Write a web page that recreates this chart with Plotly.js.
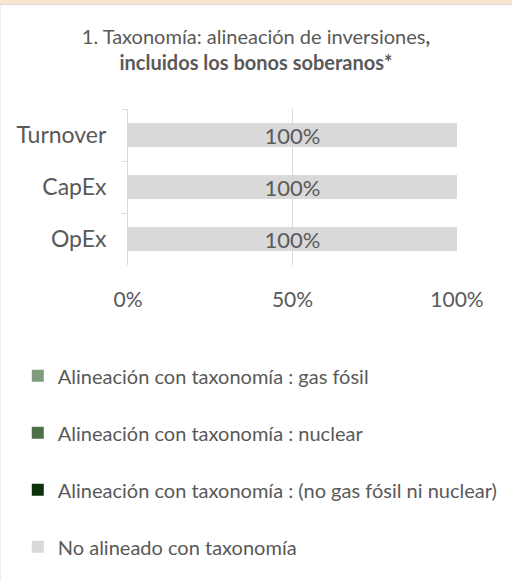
<!DOCTYPE html>
<html>
<head>
<meta charset="utf-8">
<script src="https://cdn.plot.ly/plotly-3.0.1.min.js"></script>
<style>
  html, body { margin: 0; padding: 0; background: #ffffff; }
  #wrap { position: relative; width: 512px; height: 581px; overflow: hidden; }
  #band { position: absolute; left: 0; top: 0; width: 512px; height: 4px; background: #fbe5d1; border-bottom: 1px solid #d9d9d9; z-index: 5; }
  #edge { position: absolute; left: 0; top: 5px; width: 1px; height: 576px; background: #ececec; z-index: 5; }
  #chart { position: absolute; left: 0; top: 0; width: 512px; height: 581px; }
</style>
</head>
<body>
<div id="wrap">
  <div id="chart"></div>
  <div id="band"></div>
  <div id="edge"></div>
</div>
<script>
// Data
const categories = ['Turnover', 'CapEx', 'OpEx'];
const seriesNames = [
  'Alineación con taxonomía : gas fósil',
  'Alineación con taxonomía : nuclear',
  'Alineación con taxonomía : (no gas fósil ni nuclear)',
  'No alineado con taxonomía'
];
const gasFosil = [0, 0, 0];
const nuclear = [0, 0, 0];
const noGasNiNuclear = [0, 0, 0];
const noAlineado = [1, 1, 1];
const xTickVals = [0, 0.5, 1];
const xTickText = ['0%', '50%', '100%'];

const colors = ['#7f9c7f', '#4f6f4b', '#0b320b', '#d9d9d9'];
const seriesValues = [gasFosil, nuclear, noGasNiNuclear, noAlineado];

const FONT = 'Lato, "Open Sans", sans-serif';
const TXT = '#595959';

const traces = seriesValues.map((vals, i) => ({
  type: 'bar',
  orientation: 'h',
  name: seriesNames[i],
  y: categories,
  x: vals,
  legendgroup: 'g' + i,
  marker: { color: colors[i], line: { width: 0 } },
  text: i === 3 ? vals.map(v => Math.round(v * 100) + '%') : vals.map(() => ''),
  texttemplate: i === 3 ? '%{text}' : '',
  textposition: i === 3 ? 'inside' : 'none',
  insidetextanchor: 'middle',
  constraintext: 'none',
  textangle: 0,
  textfont: { family: FONT, size: 22, color: TXT },
  hoverinfo: 'none'
}));

const layout = {
  width: 512,
  height: 581,
  paper_bgcolor: '#ffffff',
  plot_bgcolor: '#ffffff',
  barmode: 'stack',
  bargap: 0.52,
  margin: { l: 128, r: 55, t: 109, b: 316 },
  font: { family: FONT, color: TXT },
  title: {
    text: '1. Taxonomía: alineación de inversiones<b>,</b><br><b>incluidos los bonos soberanos*</b>',
    font: { family: FONT, size: 20, color: TXT },
    x: 0.5, xref: 'container', xanchor: 'center',
    y: 0.924, yref: 'container', yanchor: 'top'
  },
  xaxis: {
    range: [0, 1],
    tickvals: xTickVals,
    ticktext: xTickText,
    showgrid: true,
    gridcolor: '#d9d9d9',
    gridwidth: 1,
    zeroline: false,
    showline: false,
    ticks: '',
    ticklabelstandoff: 20,
    tickfont: { family: FONT, size: 21, color: TXT },
    fixedrange: true
  },
  yaxis: {
    type: 'category',
    categoryorder: 'array',
    categoryarray: categories,
    autorange: 'reversed',
    showline: true,
    linecolor: '#d9d9d9',
    linewidth: 1,
    showgrid: false,
    zeroline: false,
    ticks: 'outside',
    tickson: 'boundaries',
    ticklen: 5,
    tickcolor: '#d9d9d9',
    ticklabelstandoff: 16,
    tickfont: { family: FONT, size: 23, color: TXT },
    fixedrange: true
  },
  showlegend: true,
  legend: {
    x: -0.335,
    xanchor: 'left',
    y: -0.585,
    yanchor: 'top',
    traceorder: 'grouped',
    tracegroupgap: 28,
    font: { family: FONT, size: 20, color: TXT },
    itemwidth: 30,
    bgcolor: 'rgba(0,0,0,0)'
  }
};

Plotly.newPlot('chart', traces, layout, { displayModeBar: false, staticPlot: true });
</script>
</body>
</html>
